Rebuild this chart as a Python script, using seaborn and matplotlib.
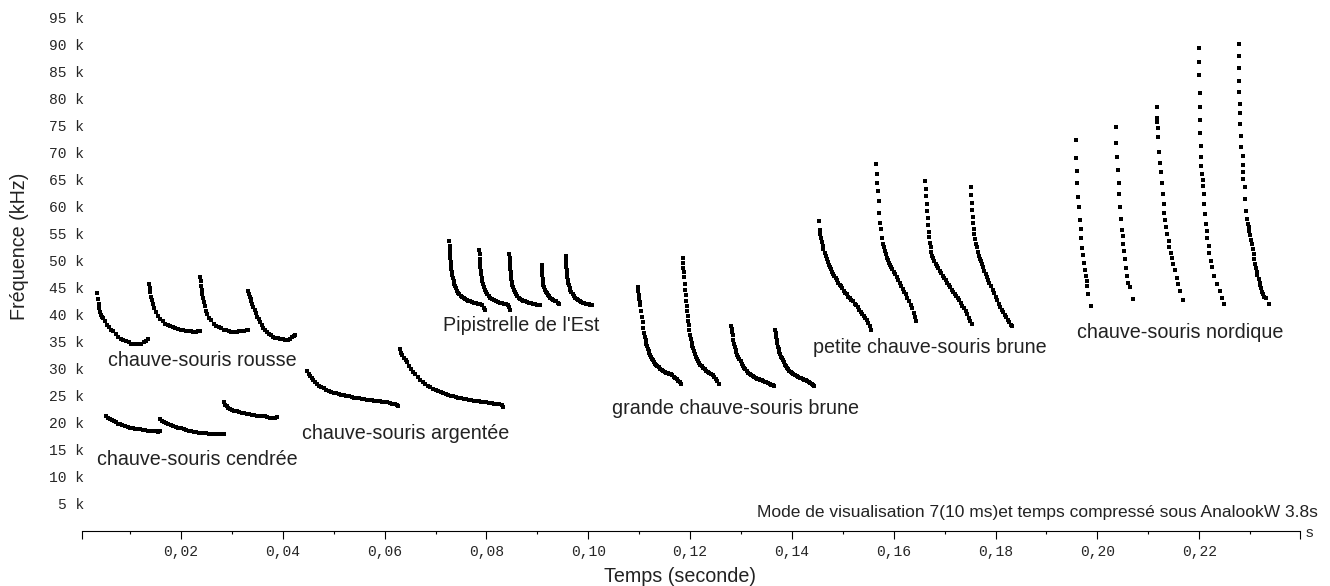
import numpy as np
import pandas as pd
import seaborn as sns
import matplotlib.pyplot as plt

# dots: (time in ms, frequency in kHz), calls one after another
rousse = [
    (3.5, 44.0), (3.65, 43.0), (3.8, 42.1), (3.95, 41.3), (4.1, 40.6), (4.3, 40.0), (4.5, 39.6),
    (4.75, 39.4), (5.1, 38.8), (5.5, 38.2), (5.9, 37.7), (6.3, 37.3), (6.7, 37.0), (7.2, 36.5),
    (7.7, 36.0), (8.2, 35.6), (8.7, 35.4), (9.2, 35.1), (9.7, 34.9), (10.2, 34.7), (10.7, 34.6),
    (11.2, 34.6), (11.7, 34.7), (12.2, 34.7), (12.7, 35.0), (13.2, 35.2), (13.6, 35.5),
    (13.7, 45.8), (13.85, 45.0), (14.0, 44.2), (14.15, 43.4), (14.3, 42.7), (14.5, 42.0),
    (14.75, 41.2), (15.0, 40.5), (15.4, 39.8), (15.9, 39.3), (16.4, 38.8), (16.9, 38.4),
    (17.4, 38.1), (17.9, 37.9), (18.4, 37.7), (18.9, 37.5), (19.4, 37.4), (19.9, 37.3),
    (20.4, 37.2), (20.9, 37.1), (21.4, 37.0), (21.9, 37.0), (22.4, 36.9), (22.9, 36.9),
    (23.4, 37.0), (23.7, 37.0),
    (23.75, 47.0), (23.85, 46.2), (23.95, 45.4), (24.05, 44.6), (24.15, 43.9), (24.3, 43.2),
    (24.45, 42.4), (24.65, 41.6), (24.9, 40.8), (25.2, 40.1), (25.5, 39.5), (25.9, 39.0),
    (26.4, 38.4), (26.9, 38.0), (27.4, 37.7), (27.9, 37.5), (28.4, 37.3), (28.9, 37.2),
    (29.4, 37.0), (29.9, 36.9), (30.4, 36.9), (30.9, 36.9), (31.4, 37.0), (31.9, 37.0),
    (32.4, 37.1), (32.9, 37.2), (33.2, 37.2),
    (33.2, 44.4), (33.35, 43.9), (33.5, 43.4), (33.65, 43.0), (33.8, 42.5), (34.0, 42.0),
    (34.2, 41.5), (34.45, 40.9), (34.7, 40.3), (35.0, 39.7), (35.3, 39.2), (35.6, 38.6),
    (35.9, 38.1), (36.2, 37.6), (36.5, 37.2), (36.8, 36.8), (37.2, 36.5), (37.6, 36.2),
    (38.0, 36.0), (38.5, 35.8), (39.0, 35.7), (39.5, 35.6), (40.0, 35.5), (40.5, 35.4),
    (41.0, 35.3), (41.4, 35.5), (41.8, 35.9), (42.1, 36.1), (42.4, 36.3),
]

cendree = [
    (5.2, 21.3), (5.6, 21.0), (6.0, 20.7), (6.4, 20.5), (6.8, 20.3), (7.2, 20.1), (7.6, 19.9),
    (8.0, 19.8), (8.5, 19.6), (9.0, 19.4), (9.5, 19.3), (10.0, 19.1), (10.5, 19.0), (11.0, 18.9),
    (11.5, 18.9), (12.0, 18.8), (12.5, 18.7), (13.0, 18.7), (13.5, 18.6), (14.0, 18.6),
    (14.5, 18.5), (15.0, 18.5), (15.5, 18.4), (15.9, 18.5),
    (15.9, 20.7), (16.3, 20.4), (16.7, 20.2), (17.1, 20.0), (17.5, 19.8), (18.0, 19.6),
    (18.5, 19.4), (19.0, 19.3), (19.5, 19.1), (20.0, 19.0), (20.5, 18.8), (21.0, 18.7),
    (21.5, 18.6), (22.0, 18.5), (22.5, 18.4), (23.0, 18.3), (23.5, 18.2), (24.0, 18.2),
    (24.5, 18.1), (25.0, 18.1), (25.5, 18.0), (26.0, 18.0), (26.5, 18.0), (27.0, 17.9),
    (27.5, 17.9), (28.0, 17.9), (28.4, 17.9),
    (28.4, 23.8), (28.7, 23.4), (29.0, 23.1), (29.3, 22.8), (29.7, 22.6), (30.1, 22.4),
    (30.5, 22.3), (30.9, 22.2), (31.4, 22.0), (31.9, 21.9), (32.4, 21.8), (32.9, 21.7),
    (33.4, 21.6), (33.9, 21.5), (34.4, 21.4), (34.9, 21.3), (35.4, 21.3), (35.9, 21.2),
    (36.4, 21.2), (36.9, 21.1), (37.4, 21.0), (37.9, 21.0), (38.4, 21.0), (38.8, 21.1),
]

argentee = [
    (44.8, 29.6), (45.1, 29.1), (45.4, 28.7), (45.7, 28.3), (46.0, 27.9), (46.3, 27.6),
    (46.7, 27.2), (47.1, 26.9), (47.5, 26.6), (48.0, 26.4), (48.5, 26.1), (49.0, 25.9),
    (49.5, 25.8), (50.0, 25.6), (50.5, 25.5), (51.0, 25.3), (51.5, 25.2), (52.0, 25.1),
    (52.5, 25.0), (53.0, 24.9), (53.5, 24.8), (54.0, 24.7), (54.5, 24.7), (55.0, 24.6),
    (55.5, 24.5), (56.0, 24.4), (56.5, 24.3), (57.0, 24.3), (57.5, 24.2), (58.0, 24.1),
    (58.5, 24.0), (59.0, 24.0), (59.5, 23.9), (60.0, 23.8), (60.5, 23.8), (61.0, 23.7),
    (61.5, 23.6), (62.0, 23.5), (62.5, 23.4), (62.7, 23.1),
    (63.1, 33.7), (63.3, 33.0), (63.5, 32.5), (63.8, 32.0), (64.1, 31.6), (64.4, 31.2),
    (64.8, 30.6), (65.2, 30.0), (65.6, 29.5), (66.0, 29.0), (66.5, 28.5), (67.0, 28.0),
    (67.5, 27.6), (68.0, 27.2), (68.5, 26.9), (69.0, 26.6), (69.5, 26.3), (70.0, 26.1),
    (70.5, 25.9), (71.0, 25.7), (71.5, 25.5), (72.0, 25.3), (72.5, 25.2), (73.0, 25.0),
    (73.5, 24.9), (74.0, 24.8), (74.5, 24.7), (75.0, 24.6), (75.5, 24.5), (76.0, 24.4),
    (76.5, 24.3), (77.0, 24.2), (77.5, 24.1), (78.0, 24.0), (78.5, 24.0), (79.0, 23.9),
    (79.5, 23.8), (80.0, 23.8), (80.5, 23.7), (81.0, 23.7), (81.5, 23.6), (82.0, 23.6),
    (82.5, 23.5), (83.0, 23.4), (83.3, 23.0),
]

pipistrelle = [
    (72.7, 53.6), (72.75, 52.8), (72.8, 52.0), (72.85, 51.2), (72.9, 50.5), (72.95, 49.8),
    (73.0, 49.2), (73.1, 48.5), (73.2, 47.9), (73.3, 47.3), (73.4, 46.8), (73.55, 46.3),
    (73.7, 45.8), (73.85, 45.3), (74.0, 44.9), (74.2, 44.5), (74.4, 44.1), (74.6, 43.8),
    (74.9, 43.5), (75.2, 43.3), (75.5, 43.1), (75.8, 42.9), (76.1, 42.8), (76.4, 42.6),
    (76.8, 42.5), (77.2, 42.4), (77.6, 42.3), (78.0, 42.2), (78.4, 42.1), (78.8, 42.0),
    (79.2, 41.8), (79.5, 41.3), (79.7, 40.9),
    (78.6, 52.0), (78.65, 51.2), (78.7, 50.4), (78.75, 49.6), (78.8, 48.9), (78.9, 48.2),
    (79.0, 47.5), (79.1, 46.9), (79.2, 46.3), (79.35, 45.7), (79.5, 45.2), (79.7, 44.7),
    (79.9, 44.3), (80.1, 43.9), (80.4, 43.5), (80.7, 43.2), (81.0, 43.0), (81.4, 42.8),
    (81.8, 42.6), (82.2, 42.4), (82.6, 42.3), (83.0, 42.2), (83.4, 42.1), (83.8, 42.0),
    (84.2, 41.9), (84.5, 41.4), (84.65, 40.9),
    (84.5, 51.2), (84.55, 50.5), (84.6, 49.8), (84.65, 49.1), (84.7, 48.5), (84.75, 47.9),
    (84.8, 47.3), (84.9, 46.7), (85.0, 46.1), (85.1, 45.6), (85.25, 45.1), (85.4, 44.7),
    (85.6, 44.2), (85.8, 43.8), (86.0, 43.5), (86.3, 43.2), (86.6, 42.9), (86.9, 42.7),
    (87.2, 42.6), (87.6, 42.5), (88.0, 42.4), (88.4, 42.3), (88.8, 42.2), (89.2, 42.1),
    (89.6, 42.0), (90.0, 41.9), (90.5, 41.9),
    (90.85, 49.2), (90.9, 48.5), (90.95, 47.9), (91.0, 47.3), (91.05, 46.7), (91.1, 46.1),
    (91.2, 45.6), (91.3, 45.1), (91.45, 44.7), (91.6, 44.3), (91.8, 44.0), (92.0, 43.7),
    (92.2, 43.5), (92.5, 43.2), (92.8, 43.0), (93.1, 42.8), (93.4, 42.6), (93.7, 42.5),
    (94.0, 42.3), (94.2, 42.1),
    (95.6, 51.0), (95.63, 50.3), (95.66, 49.6), (95.7, 48.9), (95.74, 48.3), (95.78, 47.7),
    (95.85, 47.1), (95.95, 46.5), (96.05, 46.0), (96.2, 45.5), (96.35, 45.0), (96.5, 44.6),
    (96.7, 44.2), (96.9, 43.8), (97.1, 43.5), (97.4, 43.2), (97.7, 42.9), (98.0, 42.7),
    (98.3, 42.5), (98.6, 42.4), (98.9, 42.3), (99.2, 42.2), (99.5, 42.1), (99.8, 42.0),
    (100.1, 42.0), (100.4, 41.9), (100.7, 41.9),
]

grande = [
    (109.7, 45.2), (109.8, 44.4), (109.9, 43.7), (110.0, 43.0), (110.1, 42.4), (110.2, 41.8),
    (110.35, 40.8), (110.5, 39.7), (110.65, 38.6), (110.8, 37.5), (110.95, 36.7), (111.1, 36.0),
    (111.25, 35.3), (111.4, 34.7), (111.55, 34.2), (111.7, 33.7), (111.85, 33.3), (112.0, 32.9),
    (112.15, 32.6), (112.3, 32.3), (112.5, 31.9), (112.7, 31.6), (112.9, 31.3), (113.1, 31.0),
    (113.3, 30.8), (113.5, 30.5), (113.8, 30.3), (114.1, 30.0), (114.4, 29.8), (114.7, 29.6),
    (115.0, 29.5), (115.3, 29.3), (115.6, 29.2), (115.9, 29.1), (116.2, 29.0), (116.5, 28.8),
    (116.8, 28.6), (117.1, 28.4), (117.4, 28.1), (117.7, 27.8), (118.0, 27.5), (118.3, 27.3),
    (118.6, 50.6), (118.65, 49.6), (118.7, 48.7), (118.75, 47.9), (118.8, 47.1), (118.9, 45.8),
    (119.0, 44.6), (119.1, 43.6), (119.2, 42.6), (119.3, 41.6), (119.4, 40.7), (119.5, 39.8),
    (119.6, 38.9), (119.7, 38.1), (119.85, 37.2), (120.0, 36.3), (120.15, 35.5), (120.3, 34.8),
    (120.45, 34.3), (120.6, 33.9), (120.8, 33.3), (121.0, 32.7), (121.2, 32.2), (121.4, 31.8),
    (121.6, 31.4), (121.8, 31.1), (122.0, 30.8), (122.3, 30.5), (122.6, 30.2), (122.9, 29.9),
    (123.2, 29.7), (123.5, 29.5), (123.8, 29.3), (124.1, 29.1), (124.4, 28.9), (124.7, 28.6),
    (125.0, 28.2), (125.3, 27.7), (125.6, 27.3),
    (128.05, 38.0), (128.15, 37.4), (128.25, 36.8), (128.35, 36.2), (128.5, 35.3), (128.65, 34.6),
    (128.8, 34.0), (128.95, 33.5), (129.1, 33.1), (129.3, 32.6), (129.5, 32.2), (129.7, 31.8),
    (129.9, 31.4), (130.1, 31.0), (130.35, 30.6), (130.6, 30.2), (130.85, 29.9), (131.1, 29.6),
    (131.4, 29.3), (131.7, 29.1), (132.0, 28.9), (132.3, 28.7), (132.6, 28.5), (132.9, 28.3),
    (133.2, 28.2), (133.5, 28.1), (133.8, 28.0), (134.1, 27.9), (134.4, 27.8), (134.7, 27.6),
    (135.0, 27.5), (135.3, 27.4), (135.6, 27.2), (135.9, 27.1), (136.2, 27.0), (136.4, 26.9),
    (136.7, 37.2), (136.8, 36.6), (136.9, 36.0), (137.0, 35.4), (137.1, 34.8), (137.25, 34.1),
    (137.4, 33.6), (137.55, 33.1), (137.7, 32.7), (137.85, 32.3), (138.0, 32.0), (138.2, 31.6),
    (138.4, 31.2), (138.6, 30.8), (138.8, 30.5), (139.0, 30.2), (139.25, 29.9), (139.5, 29.6),
    (139.75, 29.4), (140.0, 29.2), (140.3, 29.0), (140.6, 28.8), (140.9, 28.7), (141.2, 28.6),
    (141.5, 28.4), (141.8, 28.3), (142.1, 28.1), (142.4, 28.0), (142.7, 27.9), (143.0, 27.7),
    (143.3, 27.5), (143.6, 27.4), (143.9, 27.2), (144.2, 27.0), (144.4, 26.9),
]

petite = [
    (145.3, 57.4), (145.45, 55.8), (145.6, 55.0), (145.75, 54.2), (145.9, 53.5), (146.05, 52.8),
    (146.2, 52.2), (146.4, 51.5), (146.6, 50.9), (146.8, 50.3), (147.0, 49.8), (147.2, 49.3),
    (147.4, 48.9), (147.6, 48.5), (147.85, 48.0), (148.1, 47.6), (148.35, 47.2), (148.6, 46.8),
    (148.85, 46.4), (149.1, 46.0), (149.35, 45.6), (149.6, 45.3), (149.9, 44.9), (150.2, 44.5),
    (150.5, 44.1), (150.8, 43.8), (151.1, 43.4), (151.4, 43.1), (151.7, 42.8), (152.0, 42.5),
    (152.3, 42.1), (152.6, 41.8), (152.9, 41.4), (153.2, 41.0), (153.5, 40.6), (153.8, 40.2),
    (154.1, 39.8), (154.4, 39.4), (154.7, 39.0), (155.0, 38.5), (155.3, 37.9), (155.5, 37.3),
    (156.54, 68.0), (156.67, 66.1), (156.79, 64.5), (156.93, 63.0), (157.07, 61.1),
    (157.19, 58.9), (157.33, 57.1), (157.47, 55.9), (157.66, 54.3), (157.85, 53.2),
    (158.0, 52.5), (158.2, 51.8), (158.4, 51.2), (158.6, 50.6), (158.8, 50.1), (159.0, 49.7),
    (159.25, 49.3), (159.5, 48.9), (159.75, 48.5), (160.0, 48.0), (160.3, 47.5), (160.6, 47.0),
    (160.9, 46.5), (161.2, 45.9), (161.5, 45.4), (161.8, 44.8), (162.1, 44.3), (162.4, 43.8),
    (162.7, 43.2), (163.0, 42.6), (163.3, 41.9), (163.6, 41.2), (163.9, 40.4), (164.2, 39.6),
    (164.4, 38.9),
    (166.15, 64.8), (166.25, 63.4), (166.35, 62.0), (166.45, 60.6), (166.55, 59.2),
    (166.65, 57.9), (166.75, 56.6), (166.85, 55.4), (166.95, 54.4), (167.1, 53.4),
    (167.25, 52.5), (167.4, 51.7), (167.6, 51.0), (167.8, 50.5), (168.0, 50.0), (168.25, 49.5),
    (168.5, 49.0), (168.75, 48.6), (169.0, 48.2), (169.3, 47.7), (169.6, 47.2), (169.9, 46.8),
    (170.2, 46.4), (170.5, 45.9), (170.8, 45.5), (171.1, 45.1), (171.4, 44.7), (171.7, 44.3),
    (172.0, 43.9), (172.3, 43.5), (172.6, 43.1), (172.9, 42.7), (173.2, 42.2), (173.5, 41.7),
    (173.8, 41.2), (174.1, 40.7), (174.4, 40.1), (174.7, 39.5), (175.0, 38.9), (175.3, 38.3),
    (175.15, 63.6), (175.25, 62.2), (175.35, 60.8), (175.45, 59.5), (175.55, 58.2),
    (175.65, 57.0), (175.75, 55.9), (175.85, 54.9), (176.0, 54.0), (176.15, 53.2),
    (176.3, 52.5), (176.5, 51.7), (176.7, 51.0), (176.9, 50.4), (177.1, 49.9), (177.3, 49.4),
    (177.55, 48.8), (177.8, 48.2), (178.05, 47.6), (178.3, 47.1), (178.55, 46.5), (178.8, 46.0),
    (179.1, 45.4), (179.4, 44.7), (179.7, 44.0), (180.0, 43.4), (180.3, 42.8), (180.6, 42.1),
    (180.9, 41.5), (181.2, 41.0), (181.5, 40.5), (181.8, 40.0), (182.1, 39.6), (182.4, 39.1),
    (182.7, 38.6), (183.0, 38.2), (183.2, 38.0),
]

nordique = [
    (195.84, 72.3), (195.84, 69.1), (195.97, 66.7), (196.09, 64.4), (196.29, 61.9),
    (196.43, 59.9), (196.62, 57.5), (196.76, 55.9), (196.88, 54.2), (197.07, 52.4),
    (197.27, 51.1), (197.41, 49.7), (197.60, 48.3), (197.80, 47.2), (197.94, 46.2),
    (198.05, 45.4), (198.25, 43.9), (198.78, 41.7),
    (203.63, 74.7), (203.63, 71.9), (203.83, 69.3), (204.03, 66.8), (204.15, 64.5),
    (204.34, 62.4), (204.48, 59.9), (204.62, 57.7), (204.81, 55.7), (205.01, 54.6),
    (205.13, 53.2), (205.27, 51.9), (205.46, 50.3), (205.66, 48.6), (205.91, 47.2),
    (206.11, 46.0), (206.44, 45.1), (206.90, 42.9),
    (211.69, 78.5), (211.69, 76.4), (211.75, 75.8), (211.89, 74.6), (212.00, 73.0),
    (212.20, 70.1), (212.34, 68.2), (212.53, 66.4), (212.67, 64.5), (212.87, 62.4),
    (212.99, 60.6), (213.18, 58.9), (213.32, 57.5), (213.52, 56.2), (213.77, 54.9),
    (213.97, 53.7), (214.16, 52.5), (214.44, 51.5), (214.64, 50.6), (214.95, 49.4),
    (215.29, 48.3), (215.62, 46.9), (215.93, 45.7), (216.27, 44.4), (216.80, 42.7),
    (220.00, 89.5), (220.00, 86.9), (220.00, 84.4), (220.06, 81.0), (220.06, 78.5),
    (220.20, 76.1), (220.20, 73.6), (220.26, 71.3), (220.33, 69.3), (220.39, 67.6),
    (220.53, 66.1), (220.65, 64.9), (220.73, 63.9), (220.85, 62.4), (220.98, 60.6),
    (221.18, 58.6), (221.38, 56.8), (221.51, 55.6), (221.63, 54.3), (221.83, 52.8),
    (222.02, 51.4), (222.30, 50.0), (222.61, 48.8), (222.95, 47.2), (223.48, 45.7),
    (223.99, 44.4), (224.46, 43.2), (224.91, 42.1),
    (227.72, 90.1), (227.72, 88.0), (227.72, 85.7), (227.72, 83.3), (227.72, 81.2),
    (228.05, 79.0), (228.05, 77.3), (228.05, 75.3), (228.25, 73.1), (228.25, 71.0),
    (228.51, 69.4), (228.51, 67.8), (228.70, 66.4), (228.70, 65.1), (228.98, 63.6),
    (229.04, 61.4), (229.23, 59.3), (229.37, 57.7), (229.57, 56.9), (229.76, 56.2),
    (229.88, 55.6), (230.02, 54.8), (230.16, 53.8), (230.35, 53.1), (230.47, 52.2),
    (230.67, 51.2), (230.80, 50.3), (230.94, 49.4), (231.14, 48.6), (231.34, 48.0),
    (231.45, 47.4), (231.65, 46.6), (231.85, 46.0), (231.98, 45.6), (232.12, 44.9),
    (232.32, 44.3), (232.51, 43.8), (232.77, 43.3), (233.10, 43.2), (233.62, 42.1),
]

# species names and where their caption starts (time in s, frequency in kHz)
captions = [
    ('chauve-souris rousse', 0.0057, 31.5),
    ('chauve-souris cendrée', 0.0035, 13.3),
    ('chauve-souris argentée', 0.0438, 18.0),
    ("Pipistrelle de l'Est", 0.0715, 38.0),
    ('grande chauve-souris brune', 0.1046, 22.6),
    ('petite chauve-souris brune', 0.1442, 33.9),
    ('chauve-souris nordique', 0.1960, 36.7),
]

yticks = list(range(5, 100, 5))
xticks = [0.02, 0.04, 0.06, 0.08, 0.10, 0.12, 0.14, 0.16, 0.18, 0.20, 0.22]
xminor = [0.01, 0.03, 0.05, 0.07, 0.09, 0.11, 0.13, 0.15, 0.17, 0.19, 0.21, 0.23]

species = {
    'rousse': rousse, 'cendree': cendree, 'argentee': argentee, 'pipistrelle': pipistrelle,
    'grande': grande, 'petite': petite, 'nordique': nordique,
}
rows = []
for name, dots in species.items():
    for t, f in dots:
        rows.append((t / 1000, f, name))
df = pd.DataFrame(rows, columns=['temps', 'frequence', 'espece'])

sns.set_style('white')
plt.rcParams['font.family'] = ['Liberation Sans', 'DejaVu Sans']

fig = plt.figure(figsize=(13.3, 5.86), dpi=100)
ax = fig.add_axes([82 / 1330, 55 / 586, 1218 / 1330, 531 / 586])

sns.scatterplot(data=df, x='temps', y='frequence', color='black', marker='s',
                s=5.5, linewidth=0, legend=False, ax=ax)

xmin, xmax = 0.00055, 0.2398
ax.set_xlim(xmin, xmax)
ax.set_ylim(0, 98.3)

for side in ['top', 'right', 'left']:
    ax.spines[side].set_visible(False)
ax.spines['bottom'].set_color('black')
ax.spines['bottom'].set_linewidth(0.8)

ax.set_xticks([xmin] + xticks + [xmax])
ax.set_xticklabels([''] + [f'{v:.2f}'.replace('.', ',') for v in xticks] + [''],
                   fontfamily='Liberation Mono', fontsize=10.5)
ax.set_xticks(xminor, minor=True)
ax.tick_params(axis='x', which='major', bottom=True, direction='out', length=6,
               width=0.8, color='black', pad=4)
ax.tick_params(axis='x', which='minor', bottom=True, direction='out', length=2.2,
               width=0.8, color='black')

ax.set_yticks(yticks)
ax.set_yticklabels([f'{v} k' for v in yticks], fontfamily='Liberation Mono', fontsize=10.5)
ax.tick_params(axis='y', left=False, length=0, pad=-1.5)

ax.set_xlabel('')
ax.set_ylabel('')

for text, t, f in captions:
    ax.text(t, f, text, ha='left', va='center', fontsize=14.2, color='#222222')

fig.text(680 / 1330, 1 - 577 / 586, 'Temps (seconde)', ha='center', va='center',
         fontsize=14.2, color='#222222')
fig.text(20 / 1330, 1 - 246 / 586, 'Fréquence (kHz)', ha='center', va='center',
         rotation=90, fontsize=14.2, color='#222222')
fig.text(1306 / 1330, 1 - 533 / 586, 's', ha='left', va='center', fontsize=11)
fig.text(1318 / 1330, 1 - 512 / 586,
         'Mode de visualisation 7(10 ms)et temps compressé sous AnalookW 3.8s',
         ha='right', va='center', fontsize=12.5, color='#222222')

fig.savefig('out.png', dpi=100)
